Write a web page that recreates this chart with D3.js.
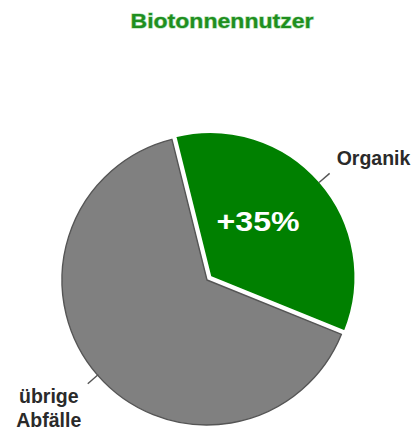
<!DOCTYPE html>
<html>
<head>
<meta charset="utf-8">
<script src="https://cdn.jsdelivr.net/npm/d3@7"></script>
<style>
  html, body { margin: 0; padding: 0; background: #fff; }
  svg { display: block; }
</style>
</head>
<body>
<svg id="chart" width="416" height="431"></svg>
<script>
// ---- data ----
const title = "Biotonnennutzer";
const categories = ["Organik", "übrige Abfälle"];
const values = [35, 65];
const sliceLabels = ["+35%", ""];
const colors = ["#008000", "#808080"];

// ---- layout ----
const W = 416, H = 431;
const cx = 207, cy = 280, R = 145;
const startDeg = -14;
const explode = 4.5;

const svg = d3.select("#chart");

svg.append("text")
  .attr("x", 222).attr("y", 27.5)
  .attr("text-anchor", "middle")
  .attr("font-family", "Liberation Sans, Arial, sans-serif")
  .attr("font-weight", "bold")
  .attr("font-size", 21)
  .attr("textLength", 183)
  .attr("lengthAdjust", "spacingAndGlyphs")
  .attr("fill", "#1f8f1f")
  .attr("stroke", "#a8dca8")
  .attr("stroke-width", 1.2)
  .attr("paint-order", "stroke")
  .text(title);

const pie = d3.pie().sort(null).value(d => d)
  .startAngle(startDeg * Math.PI / 180)
  .endAngle(startDeg * Math.PI / 180 + 2 * Math.PI);
const arcs = pie(values);
const arc = d3.arc().innerRadius(0).outerRadius(R);

const g = svg.append("g").attr("transform", `translate(${cx},${cy})`);

function dir(a) { return [Math.sin(a), -Math.cos(a)]; }

// gray (others) first, then exploded green
const order = [1, 0];
order.forEach(i => {
  const a = arcs[i];
  const mid = (a.startAngle + a.endAngle) / 2;
  const [dx, dy] = dir(mid);
  const off = i === 0 ? explode : 0;
  g.append("path")
    .attr("d", arc(a))
    .attr("transform", `translate(${dx * off},${dy * off})`)
    .attr("fill", colors[i])
    .attr("stroke", i === 0 ? "#ffffff" : "#555555")
    .attr("stroke-width", i === 0 ? 2 : 1.4)
    .attr("stroke-linejoin", "round");
});

// leader lines and labels
arcs.forEach((a, i) => {
  const mid = (a.startAngle + a.endAngle) / 2;
  const [dx, dy] = dir(mid);
  const off = i === 0 ? explode : 0;
  const r0 = R + off - 1, r1 = R + off + 13;
  g.append("line")
    .attr("x1", dx * r0).attr("y1", dy * r0)
    .attr("x2", dx * r1).attr("y2", dy * r1)
    .attr("stroke", "#555").attr("stroke-width", 1.4);
  const ex = dx * r1, ey = dy * r1;
  const words = categories[i].split(" ");
  const t = g.append("text")
    .attr("font-family", "Liberation Sans, Arial, sans-serif")
    .attr("font-weight", "bold")
    .attr("font-size", 19.5)
    .attr("fill", "#2a2a2a");
  if (i === 0) {
    t.attr("x", ex + 7).attr("y", ey - 8).attr("text-anchor", "start").text(categories[i]);
  } else {
    t.attr("text-anchor", "middle");
    words.forEach((w, k) => {
      t.append("tspan").attr("x", ex - 39).attr("y", ey + 19.5 + k * 23.5).text(w);
    });
  }
  if (sliceLabels[i]) {
    const c = d3.arc().innerRadius(0).outerRadius(R).centroid(a);
    g.append("text")
      .attr("x", c[0] + dx * off - 7).attr("y", c[1] + dy * off + 2)
      .attr("text-anchor", "middle")
      .attr("font-family", "Liberation Sans, Arial, sans-serif")
      .attr("font-weight", "bold")
      .attr("font-size", 27)
      .attr("textLength", 83)
      .attr("lengthAdjust", "spacingAndGlyphs")
      .attr("fill", "#ffffff")
      .text(sliceLabels[i]);
  }
});
</script>
</body>
</html>
